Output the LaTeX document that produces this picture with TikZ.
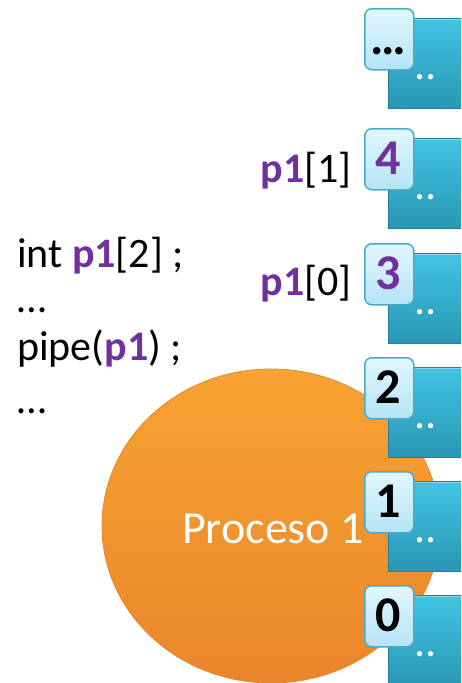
\documentclass[tikz,border=0pt]{standalone}
\usepackage{fontspec}
\setmainfont{Carlito}
\usetikzlibrary{shapes.geometric}
\definecolor{purp}{HTML}{7030A0}
\definecolor{orangetop}{HTML}{F8A332}
\definecolor{orangebot}{HTML}{E9852A}
\definecolor{orangeedge}{HTML}{E38A2C}
\definecolor{tealtop}{HTML}{42C4E3}
\definecolor{tealbot}{HTML}{2996B5}
\definecolor{tealedge}{HTML}{217F99}
\definecolor{lighttop}{HTML}{E2F7FE}
\definecolor{lightbot}{HTML}{B4E4F5}
\definecolor{lightedge}{HTML}{4DAAC7}
\tikzset{
  proc/.style={ellipse, minimum width=338pt, minimum height=314pt, inner sep=0,
    top color=orangetop, bottom color=orangebot, draw=orangeedge, line width=0.8pt},
  tealbox/.style={rectangle, anchor=north west, minimum width=82pt, minimum height=90pt,
    inner sep=0, top color=tealtop, bottom color=tealbot, draw=tealedge, line width=1pt},
  lbox/.style={rectangle, rounded corners=7pt, anchor=north west, minimum width=49pt,
    minimum height=61pt, inner sep=0, top color=lighttop, bottom color=lightbot,
    draw=lightedge, line width=1.5pt},
  digit/.style={anchor=base, inner sep=0, font=\fontsize{50}{56}\selectfont\bfseries},
  tdots/.style={anchor=base, inner sep=0, text=white, font=\fontsize{44}{48}\selectfont},
  code/.style={anchor=base west, inner sep=0, font=\fontsize{42}{48}\selectfont},
  lab/.style={anchor=base east, inner sep=0, font=\fontsize{42}{48}\selectfont},
}
\newcommand{\pp}{\textcolor{purp}{\textbf{p1}}}
\begin{document}
\begin{tikzpicture}[x=1pt,y=-1pt]
\useasboundingbox (0,0) rectangle (461,683);
\clip (0,0) rectangle (461,683);
\node[proc] (proc) at (271,526) {};
\node[anchor=base west, inner sep=0, text=white, font=\fontsize{46}{50}\selectfont] (ptext) at (182,543) {Proceso 1};
\foreach \t/\lab/\nm in {8/{…}/dd, 128/{\textcolor{purp}{4}}/four, 243/{\textcolor{purp}{3}}/three, 357/{2}/two, 471/{1}/one, 585/{0}/zero}{
  \node[tealbox] (t\nm) at (388,\t+10) {};
  \draw[white, opacity=0.35, line width=1.2pt] ([shift={(1.5,1.5)}]t\nm.north west) -- ([shift={(0,1.5)}]t\nm.north east);
  \node[tdots] (d\nm) at (426,\t+71.5) {..};
  \node[lbox] (l\nm) at (364,\t) {};
  \node[digit] (n\nm) at (388.5,\t+46) {\lab};
}
\node[lab] (lab1) at (352,182) {\pp[1]};
\node[lab] (lab0) at (352,295) {\pp[0]};
\node[code] (c1) at (17,267) {int \pp[2] ;};
\node[code] (c2) at (17,312) {…};
\node[code] (c3) at (17,360) {pipe(\pp) ;};
\node[code] (c4) at (17,413) {…};
\end{tikzpicture}
\end{document}
